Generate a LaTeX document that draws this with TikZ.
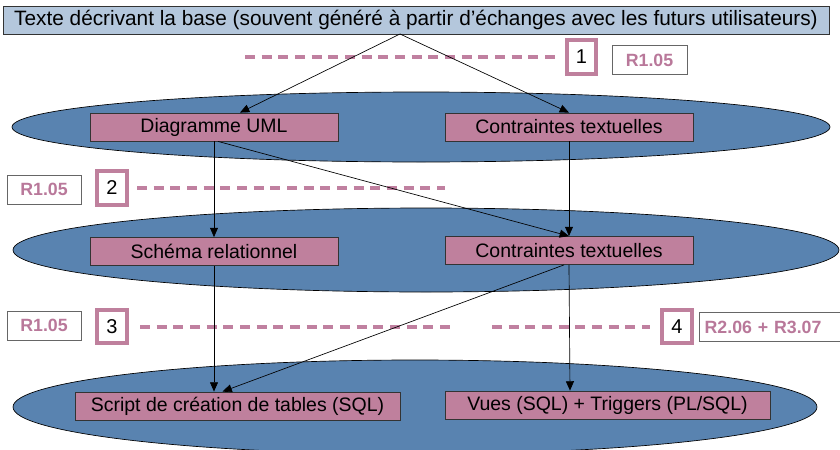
\documentclass[tikz,border=0pt]{standalone}
\usepackage{fontspec}
\setmainfont{Liberation Sans}
\usetikzlibrary{arrows.meta,calc}
\definecolor{ellblue}{RGB}{89,131,176}
\definecolor{boxpink}{RGB}{191,128,157}
\definecolor{dashpink}{RGB}{192,128,160}
\definecolor{labpink}{RGB}{185,120,154}
\definecolor{topblue}{RGB}{180,199,220}
\begin{document}
\begin{tikzpicture}[x=0.75pt,y=-0.75pt,
  layer/.style={draw=black,line width=0.5pt,fill=ellblue},
  pinkbox/.style={draw=black!80,line width=0.6pt,fill=boxpink,minimum width=186pt,minimum height=21pt,inner sep=0pt,font=\fontsize{14.6pt}{16pt}\selectfont},
  numbox/.style={draw=boxpink,line width=3pt,fill=white,minimum width=22pt,minimum height=25pt,inner sep=0pt,font=\fontsize{15pt}{17pt}\selectfont},
  refbox/.style={draw=black!60,line width=0.5pt,fill=white,minimum height=22pt,inner sep=0pt,text=labpink,font=\fontsize{13.3pt}{15pt}\selectfont\bfseries},
  sep/.style={draw=dashpink,line width=3pt,dash pattern=on 7.5pt off 5pt},
  arr/.style={-{Triangle[length=7pt,width=6pt]},line width=0.5pt,black}]
\useasboundingbox (0,0) rectangle (840,450);
% layers
\draw[layer] (421,127) ellipse [x radius=409,y radius=35];
\draw[layer] (426,250) ellipse [x radius=413,y radius=42];
\draw[layer] (415,407) ellipse [x radius=402,y radius=47];
% top box
\node[draw=black!80,line width=0.6pt,fill=topblue,minimum width=619.5pt,minimum height=21pt,inner sep=0pt,font=\fontsize{15.6pt}{17pt}\selectfont] (top) at (416,20) {Texte décrivant la base (souvent généré à partir d'échanges avec les futurs utilisateurs)};
\coordinate (tp) at (400,34);
% boxes
\node[pinkbox] (uml) at (214,127) {Diagramme UML};
\node[pinkbox] (ct1) at (569,127) {Contraintes textuelles};
\node[pinkbox] (rel) at (214,251.5) {Schéma relationnel};
\node[pinkbox] (ct2) at (569,250.5) {Contraintes textuelles};
\node[pinkbox,minimum width=243.75pt] (sql) at (237.5,406) {Script de création de tables (SQL)};
\node[pinkbox,minimum width=243.75pt] (vues) at (607.5,405) {Vues (SQL) + Triggers (PL/SQL)};
% separators
\coordinate (d1a) at (245,57); \coordinate (d1b) at (555,57);
\draw[sep] (d1a) -- (d1b);
\node[numbox] (n1) at (581.5,57) {1};
\node[refbox,minimum width=56pt] (r1) at (649.5,60) {R1.05};
\coordinate (d2a) at (137,188); \coordinate (d2b) at (445,188);
\draw[sep] (d2a) -- (d2b);
\node[numbox] (n2) at (112,188) {2};
\node[refbox,minimum width=55.5pt] (r2) at (44,189.5) {R1.05};
\coordinate (d3a) at (140,327); \coordinate (d3b) at (450,327);
\draw[sep] (d3a) -- (d3b);
\node[numbox] (n3) at (112,326.5) {3};
\node[refbox,minimum width=55.5pt] (r3) at (44,325.5) {R1.05};
\coordinate (d4a) at (492,327); \coordinate (d4b) at (650,327);
\draw[sep] (d4a) -- (d4b);
\node[numbox] (n4) at (677,326.5) {4};
\node[refbox,anchor=west,text width=110pt,align=left,inner xsep=4pt] (r4) at (699,327) {R2.06 + R3.07};
% arrows
\draw[arr] (tp) -- ($(uml.north)+(26,0)$);
\draw[arr] (tp) -- (ct1.north);
\draw[arr] (uml.south) -- (rel.north);
\draw[arr] ($(uml.south)+(4,0)$) -- (ct2.north);
\draw[arr] (ct1.south) -- (ct2.north);
\draw[arr] (rel.south) -- ($(sql.north)+(-23.5,0)$);
\draw[arr] ($(ct2.south)+(-5,0)$) -- ($(sql.north)+(-15,0)$);
\draw[arr] (ct2.south) -- ($(vues.north)+(-37.5,0)$);
\end{tikzpicture}
\end{document}
